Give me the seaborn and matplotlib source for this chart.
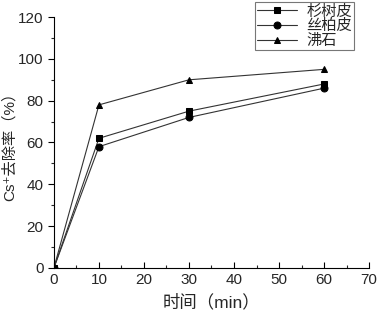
import matplotlib
matplotlib.use("Agg")
import matplotlib.pyplot as plt
import pandas as pd
import seaborn as sns
from matplotlib.ticker import MultipleLocator

time_min = [0, 10, 30, 60]
shanshu = [0, 62, 75, 88]
sibai = [0, 58, 72, 86]
feishi = [0, 78, 90, 95]
series_names = ["杉树皮", "丝柏皮", "沸石"]

df = pd.DataFrame({
    "time": time_min * 3,
    "removal": shanshu + sibai + feishi,
    "material": [n for n in series_names for _ in time_min],
})

sns.set_style("ticks")
plt.rcParams["font.family"] = ["Liberation Sans", "Noto Sans CJK SC", "DejaVu Sans"]

fig = plt.figure(figsize=(3.77, 3.17), dpi=100)
ax = fig.add_axes([0.143, 0.155, 0.836, 0.791])

sns.lineplot(
    data=df, x="time", y="removal", hue="material", style="material",
    hue_order=series_names, style_order=series_names,
    palette=["#333333"] * 3, markers=["s", "o", "^"], dashes=False,
    markersize=5, linewidth=0.8, markerfacecolor="black",
    markeredgecolor="black", ax=ax,
)

ax.set_xlim(0, 70)
ax.set_ylim(0, 120)
ax.xaxis.set_major_locator(MultipleLocator(10))
ax.xaxis.set_minor_locator(MultipleLocator(5))
ax.yaxis.set_major_locator(MultipleLocator(20))
ax.yaxis.set_minor_locator(MultipleLocator(10))
ax.tick_params(axis="both", labelsize=11, width=0.8, length=4, color="black")
ax.tick_params(axis="both", which="minor", width=0.8, length=2)
ax.tick_params(axis="x", which="both", direction="in")
for s in ["left", "bottom"]:
    ax.spines[s].set_linewidth(0.8)
    ax.spines[s].set_color("black")
sns.despine(ax=ax)

ax.set_xlabel("时间（min）", fontsize=12.5, labelpad=5)
ax.set_ylabel("Cs⁺去除率（%）", fontsize=11, labelpad=1)

leg = ax.legend(
    loc="upper left", bbox_to_anchor=(0.638, 1.06), frameon=True,
    fancybox=False, edgecolor="#555555", fontsize=11, handlelength=2.6,
    borderpad=0.15, labelspacing=0.05, handletextpad=0.6, borderaxespad=0,
)
leg.get_frame().set_linewidth(0.8)

fig.savefig("out.png", dpi=100)
